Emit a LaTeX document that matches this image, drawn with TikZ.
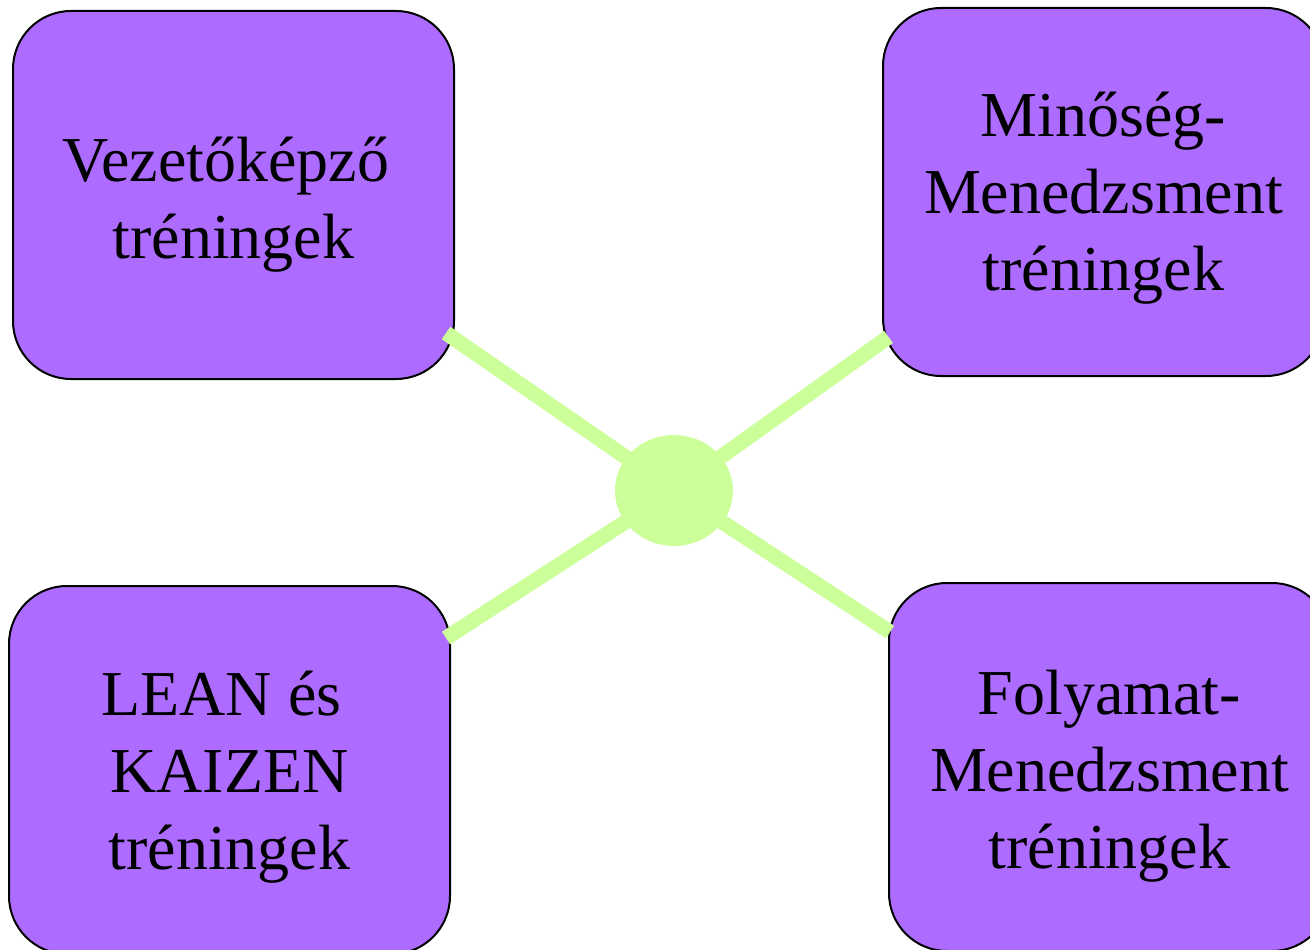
\documentclass[tikz,border=0pt]{standalone}
\usepackage{fontspec}
\setmainfont{Liberation Serif}
\usetikzlibrary{shapes.geometric}
\definecolor{boxpurple}{HTML}{AD6BFF}
\definecolor{linkgreen}{HTML}{CCFF99}
\newcommand{\trailgap}{\makebox[16pt]{}}
\tikzset{
  trainbox/.style={draw=black, line width=2pt, fill=boxpurple, rounded corners=58pt,
    minimum width=441pt, minimum height=368pt, inner sep=0pt, anchor=north west},
  boxtext/.style={align=center, inner sep=0pt, font=\fontsize{64pt}{77pt}\selectfont, text=black},
  hub/.style={ellipse, fill=linkgreen, draw=none, minimum width=118pt, minimum height=111pt, inner sep=0pt},
  spoke/.style={draw=linkgreen, line width=15pt, line cap=butt}
}
\begin{document}
\begin{tikzpicture}[x=1pt,y=-1pt]
\useasboundingbox (0,0) rectangle (1310,950);
\clip (0,0) rectangle (1310,950);
\fill[white] (0,0) rectangle (1310,950);
% boxes
\node[trainbox] (tl) at (12,10) {};
\node[trainbox] (tr) at (882,7) {};
\node[trainbox] (bl) at (8,585) {};
\node[trainbox] (br) at (888,582) {};
% texts
\node[boxtext] (tltext) at ([yshift=-10pt]tl.center) {Vezetőképző\trailgap\\tréningek};
\node[boxtext] (trtext) at ([yshift=-6pt]tr.center) {Minőség-\\Menedzsment\\tréningek};
\node[boxtext] (bltext) at ([yshift=-7pt]bl.center) {LEAN és\trailgap\\KAIZEN\\tréningek};
\node[boxtext] (brtext) at ([yshift=-9pt]br.center) {Folyamat-\\Menedzsment\\tréningek};
% hub and spokes
\node[hub] (hub) at (674,490.5) {};
\coordinate (tlend) at (446,333);
\coordinate (trend) at (888.5,337);
\coordinate (blend) at (446,638);
\coordinate (brend) at (890,632);
\draw[spoke] (hub.center) -- (tlend);
\draw[spoke] (hub.center) -- (trend);
\draw[spoke] (hub.center) -- (blend);
\draw[spoke] (hub.center) -- (brend);
\end{tikzpicture}
\end{document}
